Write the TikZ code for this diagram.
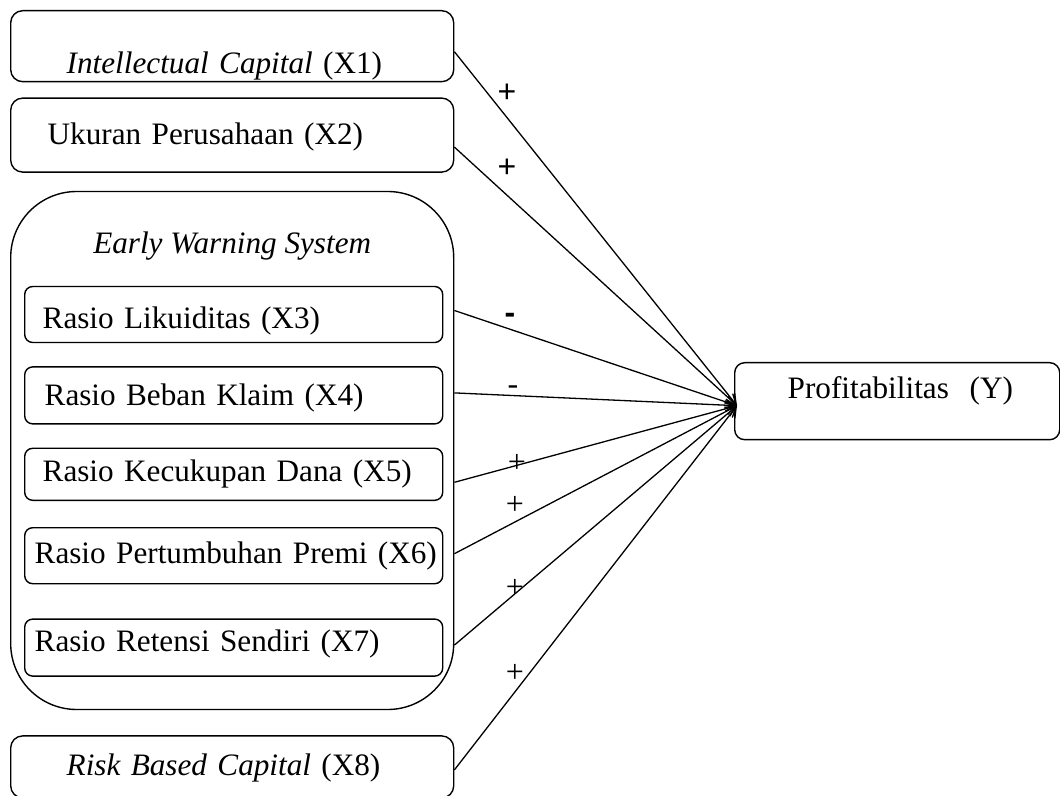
\documentclass[tikz,border=0pt]{standalone}
\usepackage{fontspec}
\setmainfont{Liberation Serif}
\newfontfamily\signfont{Liberation Sans}
\usetikzlibrary{positioning,arrows.meta,calc}

\begin{document}
\begin{tikzpicture}[x=0.5pt, y=-0.5pt,
    varbox/.style={rectangle, rounded corners=6pt, draw=black, line width=0.7pt, minimum width=221.5pt, text width=221.5pt, inner xsep=0pt, inner ysep=0pt, align=left, font=\fontsize{15.6pt}{19pt}\selectfont},
    ratiobox/.style={varbox, rounded corners=4pt, minimum width=209pt, text width=199pt, inner xsep=5pt},
    groupbox/.style={rectangle, rounded corners=33pt, draw=black, line width=0.7pt, minimum width=221.5pt, minimum height=259pt, inner sep=0pt},
    sign/.style={font=\signfont\fontsize{16pt}{19pt}\selectfont, inner sep=0pt},
    thinsign/.style={font=\fontsize{16pt}{19pt}\selectfont, inner sep=0pt},
    link/.style={-{Straight Barb[length=5pt,width=6pt]}, line width=0.65pt}
    ]
        \useasboundingbox (0,0) rectangle (1060,796);

        %Nodes
        \node[varbox, text height=31.5pt, text depth=4pt, anchor=north west]
            (x1)    at (10,10)      {\mbox{\hspace*{28pt}\textit{Intellectual Capital} (X1)}};
        \node[varbox, text height=23pt, text depth=14pt]
            (x2)    [below=7.5pt of x1]     {\mbox{\hspace*{18.5pt}Ukuran Perusahaan (X2)}};
        \node[groupbox]
            (ews)   [below=9pt of x2]       {};
        \node[font=\fontsize{15.6pt}{19pt}\selectfont\itshape]
            (ewst)  [below=31.5pt of ews.north, anchor=base]  {Early Warning System};
        \node[ratiobox, text height=21pt, text depth=7pt]
            (x3)    [below right=47.5pt and 7pt of ews.north west]  {\mbox{\hspace*{4pt}Rasio Likuiditas (X3)}};
        \node[ratiobox, text height=19.5pt, text depth=9pt]
            (x4)    [below=11.5pt of x3]    {\mbox{\hspace*{5pt}Rasio Beban Klaim (X4)}};
        \node[ratiobox, text height=16.5pt, text depth=9.5pt]
            (x5)    [below=11.5pt of x4]    {\mbox{\hspace*{4pt}Rasio Kecukupan Dana (X5)}};
        \node[ratiobox, text height=18pt, text depth=10pt]
            (x6)    [below=13pt of x5]      {\mbox{Rasio Pertumbuhan Premi (X6)}};
        \node[ratiobox, text height=16pt, text depth=12.5pt]
            (x7)    [below=17pt of x6]      {\mbox{Rasio Retensi Sendiri (X7)}};
        \node[varbox, text height=20pt, text depth=11pt]
            (x8)    [below=12.5pt of ews]   {\mbox{\hspace*{28pt}\textit{Risk Based Capital} (X8)}};
        \node[varbox, rounded corners=5pt, minimum width=162.5pt, text width=162.5pt, text height=18pt, text depth=20.5pt, anchor=north west]
            (y)     at (734,362)    {\mbox{\hspace*{26.5pt}Profitabilitas\ \ (Y)}};

        \coordinate (tip) at ([xshift=1.5pt, yshift=-2.25pt]y.west);

        %Lines
        \draw[link] ($(x1.east)+(0,5.5)$) -- (tip);
        \draw[link] ($(x2.east)+(0,12)$) -- (tip);
        \draw[link] ($(ews.east |- x3.east)+(0,-4)$) -- (tip);
        \draw[link] ($(ews.east |- x4.east)+(0,-2.5)$) -- (tip);
        \draw[link] ($(ews.east |- x5.east)+(0,8)$) -- (tip);
        \draw[link] ($(ews.east |- x6.east)+(0,-2)$) -- (tip);
        \draw[link] ($(ews.east |- x7.east)+(0,-2.5)$) -- (tip);
        \draw[link] ($(x8.east)+(0,3)$) -- (tip);

        %Signs
        \node[sign]     (s1) at (507,93)    {+};
        \node[sign]     (s2) at (507,168)   {+};
        \node[sign, font=\signfont\bfseries\fontsize{16pt}{19pt}\selectfont]
                        (s3) at (510,318)   {-};
        \node[thinsign] (s4) at (513,390)   {-};
        \node[thinsign] (s5) at (517,463)   {+};
        \node[thinsign] (s6) at (515,505)   {+};
        \node[thinsign] (s7) at (515,588)   {+};
        \node[thinsign] (s8) at (515,673)   {+};
    \end{tikzpicture}
\end{document}
